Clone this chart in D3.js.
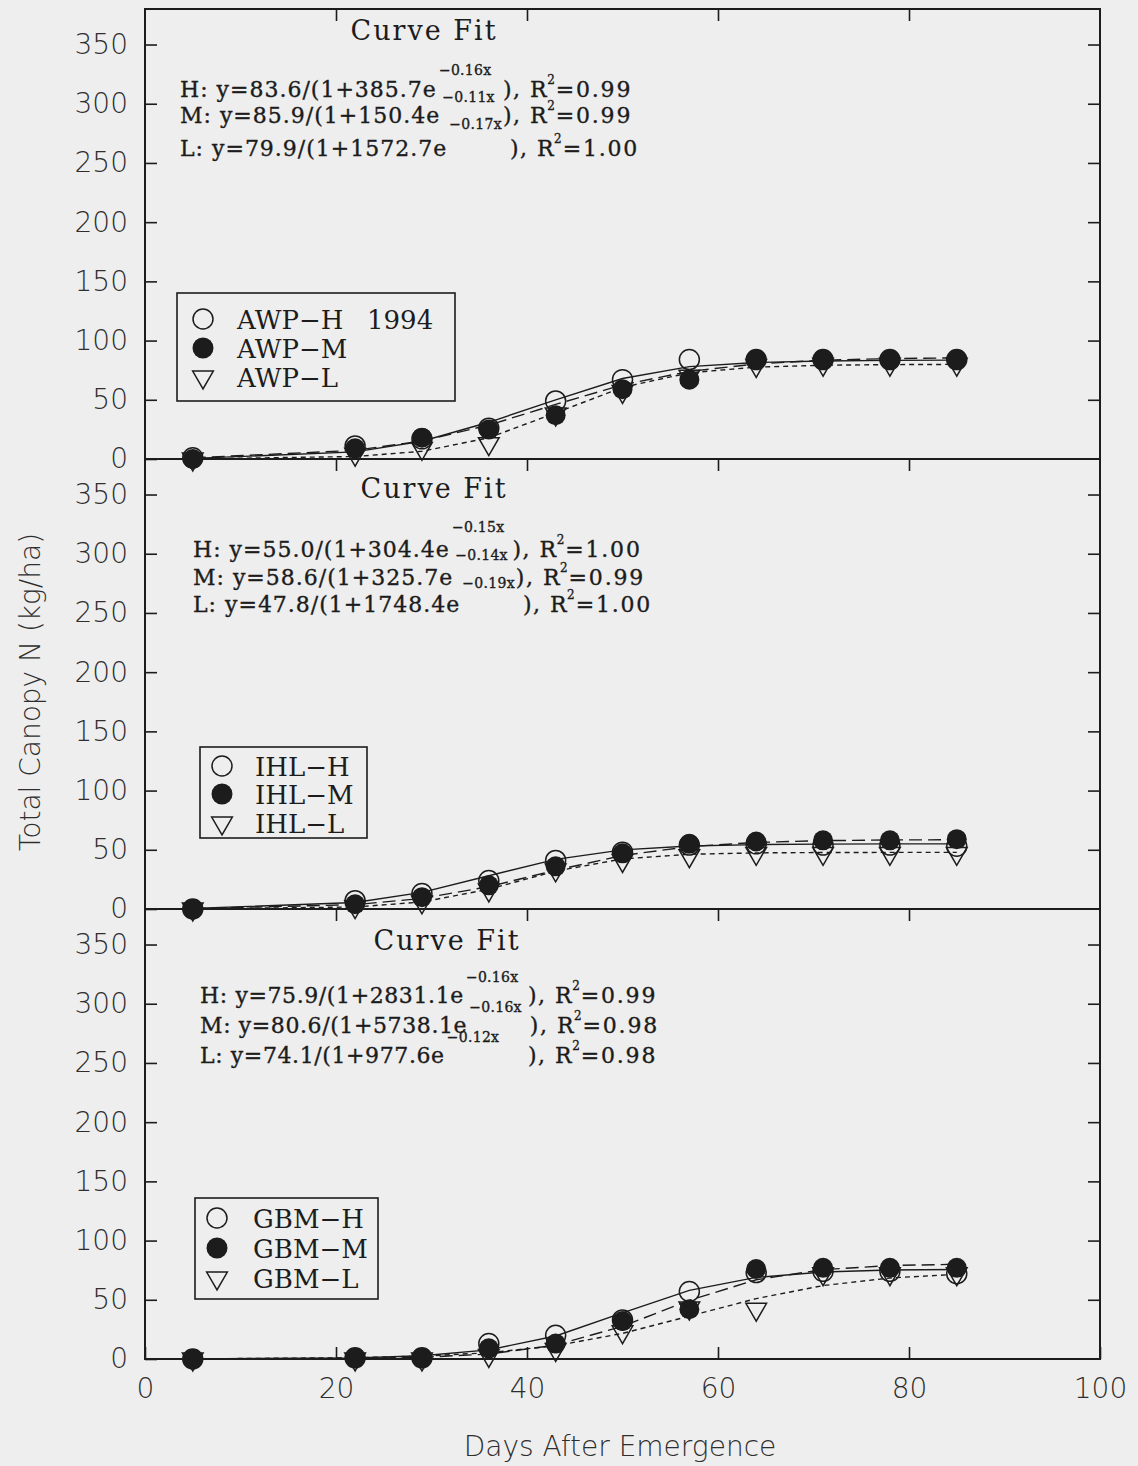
<!DOCTYPE html>
<html><head><meta charset="utf-8">
<script src="https://cdn.jsdelivr.net/npm/d3@7"></script>
<style>body{margin:0;background:#eeeeee;} svg{display:block}</style>
</head><body>
<script>
// ---------------- DATA ----------------
const days = [5, 22, 29, 36, 43, 50, 57, 64, 71, 78, 85];
const sites = ["AWP", "IHL", "GBM"];
const levels = ["H", "M", "L"];

// observed total canopy N (kg/ha)
const awpH = [1, 11, 17, 26, 49, 67, 84, 84, 84, 84, 84];
const awpM = [0, 9, 18, 25, 37, 59, 67, 84, 84, 84, 84];
const awpL = [0, 4, 9, 13, 38, 57, 70, 79, 80, 80, 80];
const ihlH = [0, 7, 13, 24, 41, 48, 54, 55, 54, 54, 53];
const ihlM = [0, 4, 10, 20, 36, 47, 55, 57, 58, 58, 59];
const ihlL = [0, 2, 6, 16, 33, 41, 45, 47, 47, 47, 47];
const gbmH = [0, 1, 1, 13, 20, 33, 57, 73, 74, 74, 72];
const gbmM = [0, 1, 1, 9, 13, 32, 42, 76, 77, 77, 77];
const gbmL = [0, 0, 0, 3, 8, 23, 43, 42, 72, 72, 72];

// fitted curve values at the same days
const fitAwpH = [0.5, 6, 15, 31, 50, 68, 78, 81.5, 82.8, 83.3, 83.5];
const fitAwpM = [1.0, 7.3, 15.2, 28.6, 46.1, 62.6, 74.0, 80.3, 83.4, 84.8, 85.4];
const fitAwpL = [0.1, 2.1, 6.5, 17.9, 38.9, 60.5, 72.8, 77.6, 79.2, 79.7, 79.9];
const fitIhlH = [0.4, 5.5, 14.0, 28.1, 41.9, 49.9, 53.2, 54.4, 54.8, 55.0, 55.0];
const fitIhlM = [0.4, 3.7, 8.9, 18.9, 32.7, 45.2, 52.7, 56.2, 57.7, 58.3, 58.5];
const fitIhlL = [0.1, 1.7, 5.9, 16.7, 32.0, 42.3, 46.2, 47.4, 47.7, 47.8, 47.8];
const fitGbmH = [0.1, 0.9, 2.7, 7.7, 19.4, 38.9, 57.9, 68.9, 73.5, 75.1, 75.6];
const fitGbmM = [0.0, 0.5, 1.4, 4.2, 11.7, 27.6, 49.5, 66.9, 75.5, 78.9, 80.0];
const fitGbmL = [0.1, 1.1, 2.4, 5.3, 11.2, 21.6, 36.2, 51.0, 62.0, 68.4, 71.5];

const yTickValues = [0, 50, 100, 150, 200, 250, 300, 350];
const xTickValues = [0, 20, 40, 60, 80, 100];
const xInnerTicks = [20, 40, 60, 80];

const eqLeadAWP = ["H: y=83.6/(1+385.7e", "M: y=85.9/(1+150.4e", "L: y=79.9/(1+1572.7e"];
const eqExpAWP = ["\u22120.16x", "\u22120.11x", "\u22120.17x"];
const eqR2AWP = ["0.99", "0.99", "1.00"];
const eqLeadIHL = ["H: y=55.0/(1+304.4e", "M: y=58.6/(1+325.7e", "L: y=47.8/(1+1748.4e"];
const eqExpIHL = ["\u22120.15x", "\u22120.14x", "\u22120.19x"];
const eqR2IHL = ["1.00", "0.99", "1.00"];
const eqLeadGBM = ["H: y=75.9/(1+2831.1e", "M: y=80.6/(1+5738.1e", "L: y=74.1/(1+977.6e"];
const eqExpGBM = ["\u22120.16x", "\u22120.16x", "\u22120.12x"];
const eqR2GBM = ["0.99", "0.98", "0.98"];

const yearLabel = "1994";
const xTitle = "Days After Emergence";
const yTitle = "Total Canopy N (kg/ha)";
const fitTitle = "Curve Fit";

// ---------------- LAYOUT ----------------
const W = 1138, H = 1466;
const ink = "#1c1c1c";
const left = 145, right = 1100;
const panelBottoms = [459, 909, 1359];
const panelH = 450;

const panels = [
  {obs: [awpH, awpM, awpL], fit: [fitAwpH, fitAwpM, fitAwpL], lead: eqLeadAWP, exp: eqExpAWP, r2: eqR2AWP,
   cf: [424, 40], eqX: 180, eqBase: [97, 123, 156], raise: [22, 21, 27], parenX: 503, spacing: 1,
   box: [177, 293, 455, 401], mx: 203, tx: 237, rows: [319, 348, 377], year: true},
  {obs: [ihlH, ihlM, ihlL], fit: [fitIhlH, fitIhlM, fitIhlL], lead: eqLeadIHL, exp: eqExpIHL, r2: eqR2IHL,
   cf: [434, 498], eqX: 193, eqBase: [557, 585, 612], raise: [25, 25, 24], parenX: 509, spacing: 1,
   box: [200, 747, 367, 838], mx: 222, tx: 255, rows: [766, 794, 823], year: false},
  {obs: [gbmH, gbmM, gbmL], fit: [fitGbmH, fitGbmM, fitGbmL], lead: eqLeadGBM, exp: eqExpGBM, r2: eqR2GBM,
   cf: [447, 950], eqX: 200, eqBase: [1003, 1033, 1063], raise: [21, 21, 21], parenX: 528, spacing: 0.6,
   box: [195, 1198, 378, 1299], mx: 217, tx: 253, rows: [1218, 1248, 1278], year: false}
];

const svg = d3.select("body").append("svg").attr("width", W).attr("height", H);
svg.append("rect").attr("width", W).attr("height", H).attr("fill", "#eeeeee");

const x = d3.scaleLinear().domain([0, 100]).range([left, right]);
const dashes = [null, "13,6", "5,4"];
const triSym = d3.symbol().type(d3.symbolTriangle);

function styleTicks(sel) {
  sel.select(".domain").remove();
  sel.selectAll(".tick line").attr("stroke", ink).attr("stroke-width", 1.6);
  sel.selectAll(".tick text").attr("font-family", "DejaVu Sans").attr("font-weight", 200)
     .attr("font-size", 28).attr("fill", "#2e2e2e");
}

function marker(g, level, cx, cy, size) {
  if (level === 0) {
    g.append("circle").attr("cx", cx).attr("cy", cy).attr("r", size)
      .attr("fill", "none").attr("stroke", ink).attr("stroke-width", 1.5);
  } else if (level === 1) {
    g.append("circle").attr("cx", cx).attr("cy", cy).attr("r", size).attr("fill", ink);
  } else {
    g.append("path").attr("d", triSym.size(size * size * 1.85)())
      .attr("transform", `translate(${cx},${cy}) rotate(180)`)
      .attr("fill", "none").attr("stroke", ink).attr("stroke-width", 1.5);
  }
}

function eqText(g, xx, yy, size, txt, spacing) {
  return g.append("text").attr("x", xx).attr("y", yy)
    .attr("font-family", "DejaVu Serif").attr("font-size", size).attr("fill", ink)
    .attr("letter-spacing", spacing).attr("stroke", ink).attr("stroke-width", 0.35).text(txt);
}

panels.forEach((p, i) => {
  const yb = panelBottoms[i];
  const y = d3.scaleLinear().domain([0, 380]).range([yb, yb - panelH]);
  const g = svg.append("g");

  // axes
  g.append("g").attr("transform", `translate(${left},0)`)
    .call(d3.axisLeft(y).tickValues(yTickValues).tickSizeInner(-12).tickSizeOuter(0).tickPadding(17))
    .call(styleTicks);
  g.append("g").attr("transform", `translate(${right},0)`)
    .call(d3.axisRight(y).tickValues(yTickValues.slice(1)).tickSizeInner(-12).tickSizeOuter(0).tickFormat(() => ""))
    .call(styleTicks);
  g.append("g").attr("transform", `translate(0,${yb - panelH})`)
    .call(d3.axisTop(x).tickValues(xInnerTicks).tickSizeInner(-12).tickSizeOuter(0).tickFormat(() => ""))
    .call(styleTicks);
  if (i === 2) {
    g.append("g").attr("transform", `translate(0,${yb})`)
      .call(d3.axisBottom(x).tickValues(xTickValues).tickSizeInner(-12).tickSizeOuter(0).tickPadding(19))
      .call(styleTicks);
  }

  // fitted curves
  const line = d3.line().x((d, j) => x(days[j])).y(d => y(d));
  p.fit.forEach((arr, k) => {
    g.append("path").attr("d", line(arr)).attr("fill", "none").attr("stroke", ink)
      .attr("stroke-width", 1.4).attr("stroke-dasharray", dashes[k]);
  });

  // observed points: L, H, then M on top
  [2, 0, 1].forEach(k => {
    p.obs[k].forEach((v, j) => marker(g, k, x(days[j]), y(v), 10));
  });

  // Curve Fit title + equations
  g.append("text").attr("x", p.cf[0]).attr("y", p.cf[1]).attr("text-anchor", "middle")
    .attr("font-family", "DejaVu Serif").attr("font-size", 27).attr("letter-spacing", 2)
    .attr("fill", ink).text(fitTitle);
  p.lead.forEach((lead, k) => {
    const base = p.eqBase[k];
    const t1 = eqText(g, p.eqX, base, 22, lead, p.spacing);
    const e1 = p.eqX + t1.node().getBBox().width;
    const t2 = eqText(g, e1 + 2, base - p.raise[k], 14, p.exp[k], 0.3);
    const e2 = e1 + 2 + t2.node().getBBox().width;
    const px = Math.max(p.parenX, e2 + 8);
    const t3 = eqText(g, px, base, 22, "), R", 1.5);
    const e3 = px + t3.node().getBBox().width;
    const t4 = eqText(g, e3 - 1, base - 13, 12, "2", 0);
    const e4 = e3 - 1 + t4.node().getBBox().width;
    eqText(g, e4 + 1, base, 22, "=" + p.r2[k], 1.8);
  });

  // legend
  const [bx0, by0, bx1, by1] = p.box;
  g.append("rect").attr("x", bx0).attr("y", by0).attr("width", bx1 - bx0).attr("height", by1 - by0)
    .attr("fill", "none").attr("stroke", ink).attr("stroke-width", 1.6);
  levels.forEach((lv, k) => {
    marker(g, k, p.mx, p.rows[k], k === 1 ? 10.5 : 10);
    g.append("text").attr("x", p.tx).attr("y", p.rows[k] + 9.5)
      .attr("font-family", "DejaVu Serif").attr("font-size", 26).attr("fill", ink)
      .text(sites[i] + "\u2212" + lv);
  });
  if (p.year) {
    g.append("text").attr("x", 367).attr("y", p.rows[0] + 9.5)
      .attr("font-family", "DejaVu Serif").attr("font-size", 26).attr("fill", ink).text(yearLabel);
  }
});

// frame
svg.append("rect").attr("x", left).attr("y", panelBottoms[0] - panelH).attr("width", right - left)
  .attr("height", panelBottoms[2] - (panelBottoms[0] - panelH))
  .attr("fill", "none").attr("stroke", ink).attr("stroke-width", 2);
[panelBottoms[0], panelBottoms[1]].forEach(yy => {
  svg.append("line").attr("x1", left).attr("x2", right).attr("y1", yy).attr("y2", yy)
    .attr("stroke", ink).attr("stroke-width", 2);
});

// axis titles
svg.append("text").attr("x", 620).attr("y", 1456).attr("text-anchor", "middle")
  .attr("font-family", "DejaVu Sans").attr("font-weight", 200).attr("font-size", 28).attr("fill", "#2e2e2e")
  .text(xTitle);
svg.append("text").attr("transform", "translate(40,692) rotate(-90)").attr("text-anchor", "middle")
  .attr("font-family", "DejaVu Sans").attr("font-weight", 200).attr("font-size", 28).attr("fill", "#2e2e2e")
  .text(yTitle);
</script>
</body></html>
